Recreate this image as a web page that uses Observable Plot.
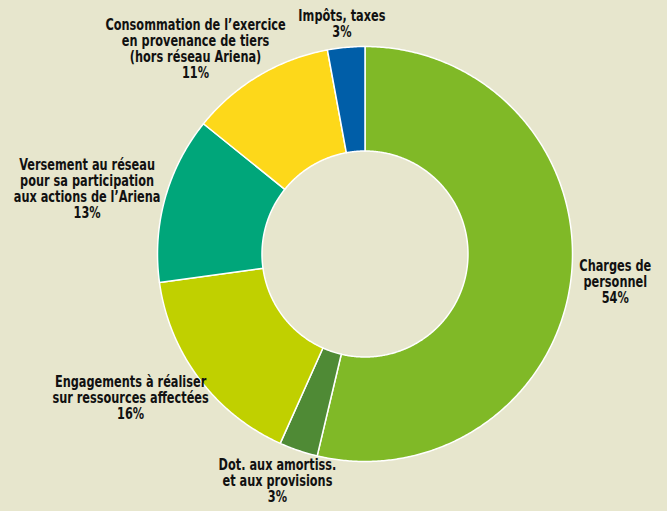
<!DOCTYPE html>
<html>
<head>
<meta charset="utf-8">
<script src="https://cdn.jsdelivr.net/npm/d3@7"></script>
<script src="https://cdn.jsdelivr.net/npm/@observablehq/plot@0.6"></script>
<style>
  html, body { margin: 0; padding: 0; background: #e7e6cd; }
  #chart svg { display: block; }
</style>
</head>
<body>
<div id="chart"></div>
<script>
// ---- Data ----
const categories = [
  "Charges de personnel",
  "Dot. aux amortiss. et aux provisions",
  "Engagements à réaliser sur ressources affectées",
  "Versement au réseau pour sa participation aux actions de l’Ariena",
  "Consommation de l’exercice en provenance de tiers (hors réseau Ariena)",
  "Impôts, taxes"
];
const labelLines = [
  "Charges de\npersonnel",
  "Dot. aux amortiss.\net aux provisions",
  "Engagements à réaliser\nsur ressources affectées",
  "Versement au réseau\npour sa participation\naux actions de l’Ariena",
  "Consommation de l’exercice\nen provenance de tiers\n(hors réseau Ariena)",
  "Impôts, taxes"
];
const values = [53.7, 3.0, 16.1, 13.0, 11.3, 2.9];
const percentLabels = ["54%", "3%", "16%", "13%", "11%", "3%"];
const colors = ["#80b927", "#4f8a35", "#c0d000", "#00a67a", "#fdd81a", "#005ea8"];

// ---- Geometry ----
const W = 667, H = 511;
const cx = 365, cy = 254, rOuter = 207.5, rInner = 103;
const fontSize = 15, lineH = 16, squeeze = 0.84;
const fontFamily = "'DejaVu Sans Condensed', 'Liberation Sans Narrow', sans-serif";

const arcs = d3.pie().sort(null).value(d => d)(values);

const pts = [];
arcs.forEach((a, i) => {
  const n = Math.max(4, Math.ceil((a.endAngle - a.startAngle) / (Math.PI / 360)));
  for (let k = 0; k <= n; k++) {
    const t = a.startAngle + (a.endAngle - a.startAngle) * k / n;
    pts.push({
      cat: categories[i],
      x1: cx + rOuter * Math.sin(t), y1: cy - rOuter * Math.cos(t),
      x2: cx + rInner * Math.sin(t), y2: cy - rInner * Math.cos(t)
    });
  }
});

// label placement: box touching a point just outside the ring at mid-angle,
// then rotated along the ring to clear overlapping neighbours
const ctx = document.createElement("canvas").getContext("2d");
ctx.font = `bold ${fontSize}px ${fontFamily}`;
const labelR = rOuter + 8, pad = 12;
const labels = arcs.map((a, i) => {
  const text = labelLines[i] + "\n" + percentLabels[i];
  const lines = text.split("\n");
  const w = squeeze * d3.max(lines, l => ctx.measureText(l).width);
  const h = lines.length * lineH;
  return { text, w, h, m: (a.startAngle + a.endAngle) / 2 };
});
function place(L) {
  const px = cx + labelR * Math.sin(L.m), py = cy - labelR * Math.cos(L.m);
  L.x = px + Math.sin(L.m) * L.w / 2;
  L.y = py - Math.cos(L.m) * L.h / 2;
}
labels.forEach(place);
const overlap = (A, B) =>
  Math.abs(A.x - B.x) < (A.w + B.w) / 2 + pad && Math.abs(A.y - B.y) < (A.h + B.h) / 2 + pad / 3;
for (let iter = 0; iter < 400; iter++) {
  let moved = false;
  for (let i = 0; i < labels.length; i++) {
    for (let j = i + 1; j < labels.length; j++) {
      const A = labels[i], B = labels[j];
      if (!overlap(A, B)) continue;
      const big = A.w * A.h >= B.w * B.h ? A : B, other = big === A ? B : A;
      let d = big.m - other.m;
      d = Math.atan2(Math.sin(d), Math.cos(d));
      big.m += (d >= 0 ? 1 : -1) * Math.PI / 360;
      place(big);
      moved = true;
    }
  }
  if (!moved) break;
}

const chart = Plot.plot({
  width: W,
  height: H,
  margin: 0,
  style: { background: "#e7e6cd" },
  x: { domain: [0, W], axis: null },
  y: { domain: [0, H], reverse: true, axis: null },
  color: { domain: categories, range: colors },
  marks: [
    Plot.area(pts, {
      x1: "x1", y1: "y1", x2: "x2", y2: "y2",
      z: "cat", fill: "cat",
      stroke: "white", strokeWidth: 1.5, strokeLinejoin: "round",
      curve: "linear"
    }),
    Plot.text(labels, {
      x: "x", y: "y", text: "text",
      textAnchor: "middle", lineAnchor: "middle",
      lineHeight: lineH / fontSize,
      fontSize, fontWeight: "bold", fontFamily,
      fill: "#111111",
      className: "donut-label"
    })
  ]
});
// narrow the (condensed) glyphs horizontally to match the reference's compressed face
d3.select(chart).selectAll("g.donut-label text").each(function () {
  const t = this.getAttribute("transform") || "";
  this.setAttribute("transform", t + ` scale(${squeeze},1)`);
});
document.getElementById("chart").appendChild(chart);
</script>
</body>
</html>
